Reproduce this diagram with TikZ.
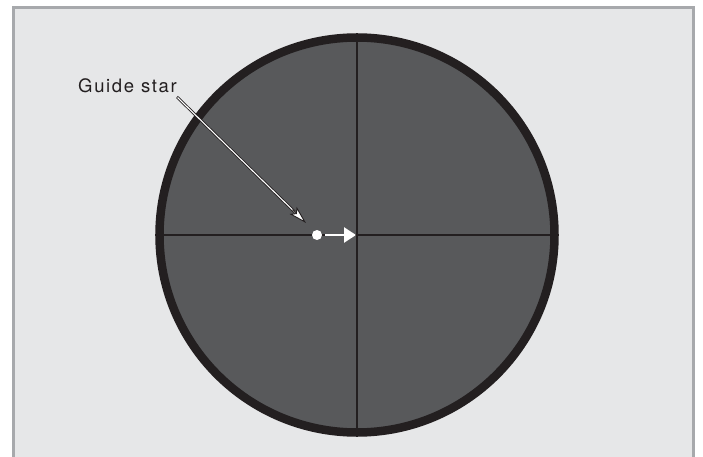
\documentclass[tikz,border=0pt]{standalone}
\usepackage{fontspec}
\setmainfont{TeX Gyre Heros}
\usetikzlibrary{arrows.meta,positioning,calc}
\definecolor{panelbg}{HTML}{E6E7E8}
\definecolor{framegray}{HTML}{A7A9AC}
\definecolor{fieldgray}{HTML}{58595B}
\definecolor{inkblack}{HTML}{231F20}

\begin{document}
\begin{tikzpicture}[
    x=1pt, y=-1pt,
    field/.style={circle, draw=inkblack, line width=8.5pt, fill=fieldgray, minimum size=395pt, inner sep=0pt},
    starnode/.style={circle, fill=white, minimum size=10pt, inner sep=0pt},
    caption/.style={font=\fontsize{18.5}{21}\selectfont\addfontfeature{LetterSpace=9}, text=inkblack, inner sep=0pt},
    crossline/.style={inkblack, line width=1.1pt},
    leaderout/.style={inkblack, line width=2.8pt, shorten >=14pt},
    leaderin/.style={white, line width=1.1pt, shorten >=14pt, shorten <=0.8pt},
    leaderhead/.style={inkblack, line width=0.9pt, -{Stealth[length=18pt, width=10pt, inset=4pt, fill=white]}},
    drift/.style={white, line width=2.6pt, -{Triangle[length=12pt, width=15pt]}},
]
\useasboundingbox (0,0) rectangle (703,457);

% --- panel ---
\fill[white] (0,0) rectangle (703,457);
\fill[panelbg] (13,8) rectangle (693,460);
\draw[framegray, line width=3pt] (13,460) -- (13,8) -- (693,8) -- (693,460);

% --- field of view ---
\node[field] (fov) at (357,235) {};
\draw[crossline] (fov.west) -- (fov.east);
\draw[crossline] (fov.north) -- (fov.south);

% --- guide star ---
\node[starnode] (star) at (317,235) {};
\coordinate (centre) at (356,235);
\coordinate (drifttail) at (325,235);
\draw[drift] (drifttail) -- (centre);

% --- caption ---
\node[caption, anchor=base west] (lbl) at (78,93) {Guide star};
\coordinate (leadstart) at (177,97);
\coordinate (leadtip) at (306,223);
\draw[leaderout] (leadstart) -- (leadtip);
\draw[leaderin] (leadstart) -- (leadtip);
\draw[leaderhead] ($(leadtip)!19pt!(leadstart)$) -- (leadtip);

\end{tikzpicture}
\end{document}
